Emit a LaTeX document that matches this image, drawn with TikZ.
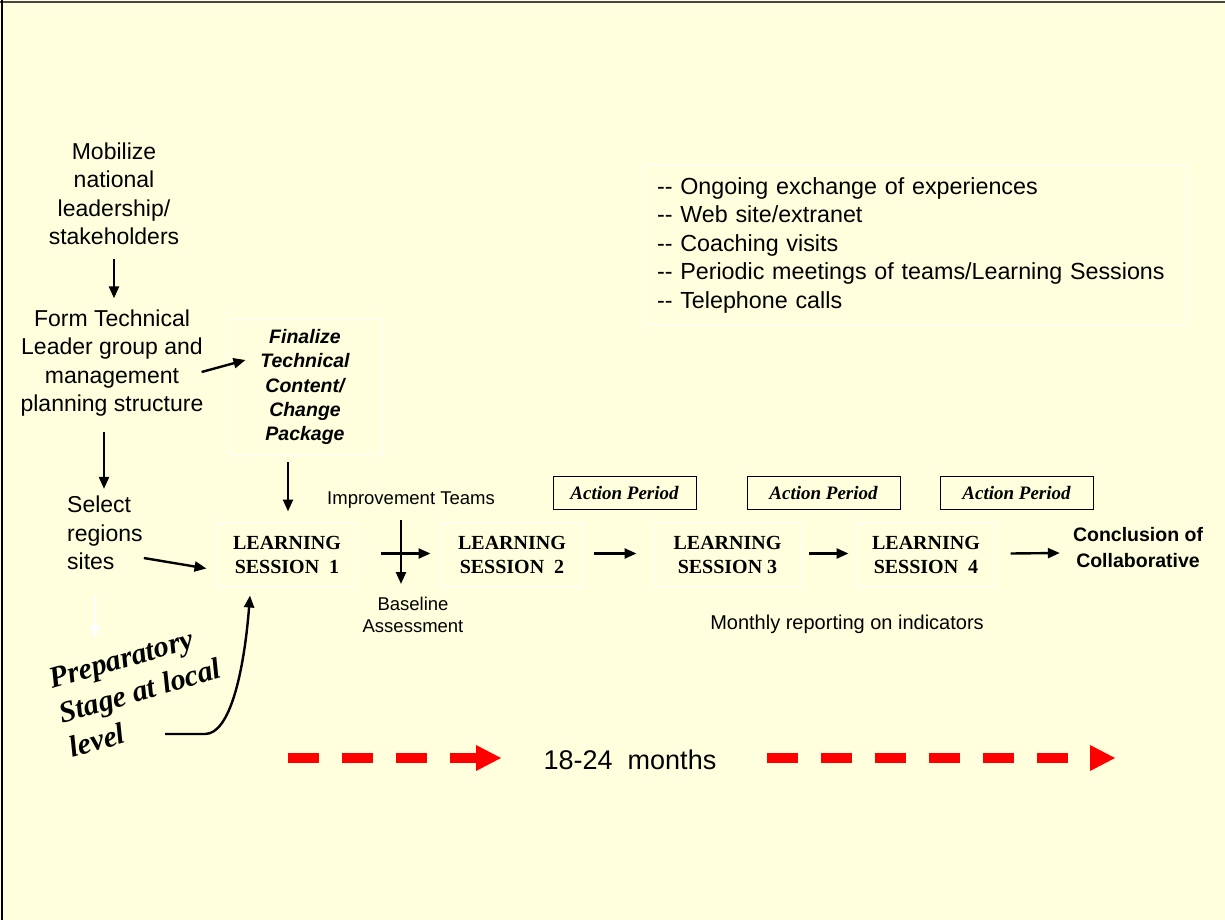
\documentclass[tikz,border=0pt]{standalone}
\usepackage{fontspec}
\setmainfont{Liberation Serif}
\newfontfamily\arialf{Liberation Sans}
\newfontfamily\tnrf{Liberation Serif}
\usetikzlibrary{arrows.meta,calc}
\definecolor{bgyellow}{RGB}{255,255,221}
\definecolor{topline}{RGB}{70,70,70}
\begin{document}
\begin{tikzpicture}[x=1pt,y=-1pt,
  arr/.style={-{Triangle[length=12pt,width=10pt]}, line width=2.4pt, black},
  warr/.style={-{Triangle[length=12pt,width=10pt]}, line width=2.4pt, white},
  wbox/.style={draw=white, line width=1pt, inner sep=0pt},
  sans/.style={font=\arialf\fontsize{23}{28.5}\selectfont, align=center, inner sep=0pt},
  lstext/.style={wbox, font=\tnrf\bfseries\fontsize{20}{24}\selectfont, align=center, minimum height=63pt},
  apbox/.style={draw=black, line width=1pt, minimum width=143pt, minimum height=33pt, inner sep=0pt, font=\tnrf\bfseries\itshape\fontsize{19}{22}\selectfont},
  small/.style={font=\arialf\fontsize{18.5}{22}\selectfont, align=center, inner sep=0pt},
  reddash/.style={red, line width=10pt, dash pattern=on 31pt off 23pt}
]
\fill[bgyellow] (0,0) rectangle (1225,920);
\useasboundingbox (0,0) rectangle (1225,920);
\draw[topline, line width=2pt] (0,2) -- (1225,2);
\draw[black, line width=2pt] (2,0) -- (2,920);

% left column
\node[sans] (mob) at (114,194) {Mobilize\\national\\leadership/\\stakeholders};
\node[sans] (form) at (112,363) {Form Technical\\Leader group and\\management\\planning structure};
\node[sans, align=left, anchor=west] (sel) at (67,533) {Select\\regions\\sites};

\node[wbox, minimum width=154pt, minimum height=135pt, align=center,
      font=\arialf\bfseries\itshape\fontsize{19.5}{24.2}\selectfont] (fin) at (305,387)
      {Finalize\\Technical\\Content/\\Change\\Package};

\node[lstext, minimum width=140pt] (ls1) at (287,554.5) {LEARNING\\SESSION\ \ 1};
\node[lstext, minimum width=142pt] (ls2) at (512,554.5) {LEARNING\\SESSION\ \ 2};
\node[lstext, minimum width=145pt] (ls3) at (727.5,554.5) {LEARNING\\SESSION 3};
\node[lstext, minimum width=138pt] (ls4) at (926,554.5) {LEARNING\\SESSION\ \ 4};

\node[font=\arialf\bfseries\fontsize{19.5}{26}\selectfont, align=center, inner sep=0pt] (concl) at (1138,548) {Conclusion of\\Collaborative};

\node[apbox] (ap1) at (624.5,492.5) {Action Period};
\node[apbox, minimum width=153pt] (ap2) at (823.5,492.5) {Action Period};
\node[apbox, minimum width=153pt] (ap3) at (1016.5,492.5) {Action Period};

\node[small] (impr) at (411,500) {Improvement Teams};
\node[small] (base) at (413,615) {Baseline\\Assessment};
\node[font=\arialf\fontsize{20}{24}\selectfont, inner sep=0pt] (month) at (847,624) {Monthly reporting on indicators};

\node[wbox, minimum width=541pt, minimum height=158pt, text width=517pt, inner xsep=12pt, align=left,
      font=\arialf\fontsize{23.3}{28.5}\selectfont] (bul) at (915.5,245)
  {-{}- Ongoing exchange of experiences\\
   -{}- Web site/extranet\\
   -{}- Coaching visits\\
   -{}- Periodic meetings of teams/Learning Sessions\\
   -{}- Telephone calls};

\node[rotate=16, align=left, inner sep=0pt, font=\tnrf\bfseries\itshape\fontsize{30}{36}\selectfont] (prep) at (140,691)
  {Preparatory\\Stage at local\\level};

\node[font=\arialf\fontsize{27}{30}\selectfont, inner sep=0pt] (months) at (630,760) {18-24\ \ months};

% connectors
\draw[arr] ($(mob.south)+(0,14)$) -- ($(form.north)+(2,-11)$);
\draw[arr] ($(form.east)+(-2,9)$) -- ($(fin.west)+(18,-27)$);
\draw[arr] ($(form.south)+(-8,15)$) -- ($(sel.north west)+(37,-7)$);
\draw[arr] ($(sel.east)+(1,25)$) -- ($(ls1.west)+(-10,14)$);
\draw[warr] ($(sel.south west)+(28,25)$) -- ++(0,43);
\draw[arr] ($(fin.south)+(-17,7)$) -- ($(ls1.north)+(1,-11)$);
\coordinate (cstart) at (165,734);
\draw[arr] (cstart) -- (205,734) .. controls (230,734) and (244,672) .. ($(ls1.south)+(-37,9)$);
\draw[arr] ($(ls1.east)+(23,-1)$) -- ($(ls2.west)+(-10,-1)$);
\draw[arr] ($(impr.south)+(-10,12)$) -- ($(base.north)+(-12,-13)$);
\draw[arr] ($(ls2.east)+(10,-1)$) -- ($(ls3.west)+(-18,-1)$);
\draw[arr] ($(ls3.east)+(8,-1)$) -- ($(ls4.west)+(-8,-1)$);
\draw[arr] ($(ls4.east)+(15,-1)$) -- ($(concl.west)+(-13,5)$);

% red dashed arrows
\draw[reddash] (288,758) -- (480,758);
\fill[red] (476,745) -- (501,758) -- (476,771) -- cycle;
\draw[reddash] (767,758) -- (1094,758);
\fill[red] (1090,745) -- (1115,758) -- (1090,771) -- cycle;
\end{tikzpicture}
\end{document}
